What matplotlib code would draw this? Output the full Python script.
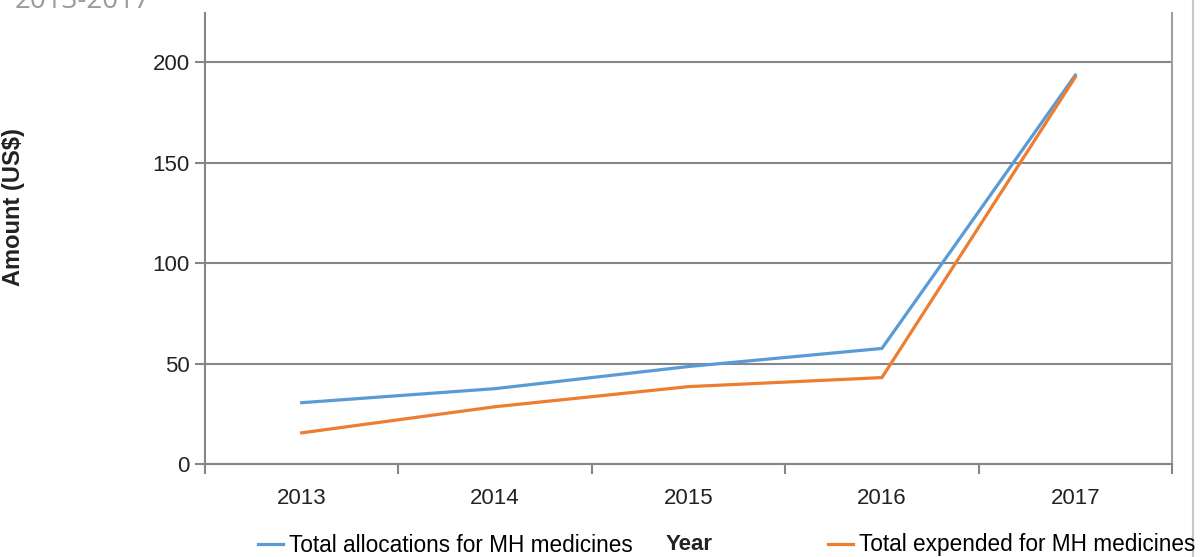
import matplotlib
matplotlib.use("Agg")
import matplotlib.pyplot as plt
from matplotlib.lines import Line2D

years = ["2013", "2014", "2015", "2016", "2017"]
allocations = [30.5, 37.5, 48.5, 57.5, 193.5]
expended = [15.5, 28.5, 38.5, 43.0, 192.5]
yticks = [0, 50, 100, 150, 200]

blue = "#5b9bd5"
orange = "#ed7d31"
grid_gray = "#868686"
plt.rcParams["font.family"] = ["Liberation Sans", "DejaVu Sans"]

W, H = 1202, 557
fig = plt.figure(figsize=(W / 100, H / 100), dpi=100)
ax = fig.add_axes([205 / W, 1 - 464 / H, (1172 - 205) / W, (464 - 13) / H])

x = range(len(years))
ax.plot(x, allocations, color=blue, lw=2.3, solid_joinstyle="miter", zorder=3)
ax.plot(x, expended, color=orange, lw=2.3, solid_joinstyle="miter", zorder=3)

ax.set_xlim(-0.5, len(years) - 0.5)
ax.set_ylim(0, 224.4)

# category boundaries as major ticks, labels on minor ticks at centers
ax.set_xticks([i - 0.5 for i in range(len(years) + 1)])
ax.set_xticklabels([])
ax.set_xticks(list(x), minor=True)
ax.set_xticklabels(years, minor=True, fontsize=16, color="#222222")
ax.tick_params(axis="x", which="major", length=7, width=1.5, color=grid_gray)
ax.tick_params(axis="x", which="minor", length=0, pad=17)

ax.set_yticks(yticks)
ax.set_yticklabels([str(v) for v in yticks], fontsize=16, color="#222222")
ax.tick_params(axis="y", length=7, width=1.5, color=grid_gray, pad=4)

ax.grid(axis="y", color=grid_gray, lw=1.5, zorder=1)
ax.set_axisbelow(True)
for side in ["left", "bottom", "right"]:
    ax.spines[side].set_color(grid_gray)
    ax.spines[side].set_linewidth(1.5)
ax.spines["right"].set_color("#a0a0a0")
ax.spines["top"].set_visible(False)

# outer chart border on the right
fig.add_artist(Line2D([1193 / W, 1193 / W], [0, 1], color="#c8c8c8", lw=1.5))

# y label at the left edge
fig.text(14 / W, 1 - 207 / H, "Amount (US$)", rotation=90, fontsize=17,
         fontweight="bold", ha="center", va="center", color="#222222")

# title, cut off at the top as in the source
fig.text(15 / W, 1 - 8 / H, "2013-2017", fontsize=20, color="#9a9a9a",
         ha="left", va="baseline", family=["Open Sans", "DejaVu Sans"])

# x label and legend entries along the bottom
fig.text(689 / W, 1 - 545 / H, "Year", fontsize=16, fontweight="bold",
         ha="center", va="center", color="#222222")

h1 = Line2D([], [], color=blue, lw=2.3)
h2 = Line2D([], [], color=orange, lw=2.3)
leg_kw = dict(loc="center left", frameon=False, fontsize=16.3, borderpad=0,
              borderaxespad=0, handlelength=1.1, handletextpad=0.25)
fig.legend([h1], ["Total allocations for MH medicines"],
           bbox_to_anchor=(258 / W, 1 - 545 / H), **leg_kw)
fig.legend([h2], ["Total expended for MH medicines"],
           bbox_to_anchor=(828 / W, 1 - 545 / H), **leg_kw)

fig.savefig("out.png", dpi=100, facecolor="white")
